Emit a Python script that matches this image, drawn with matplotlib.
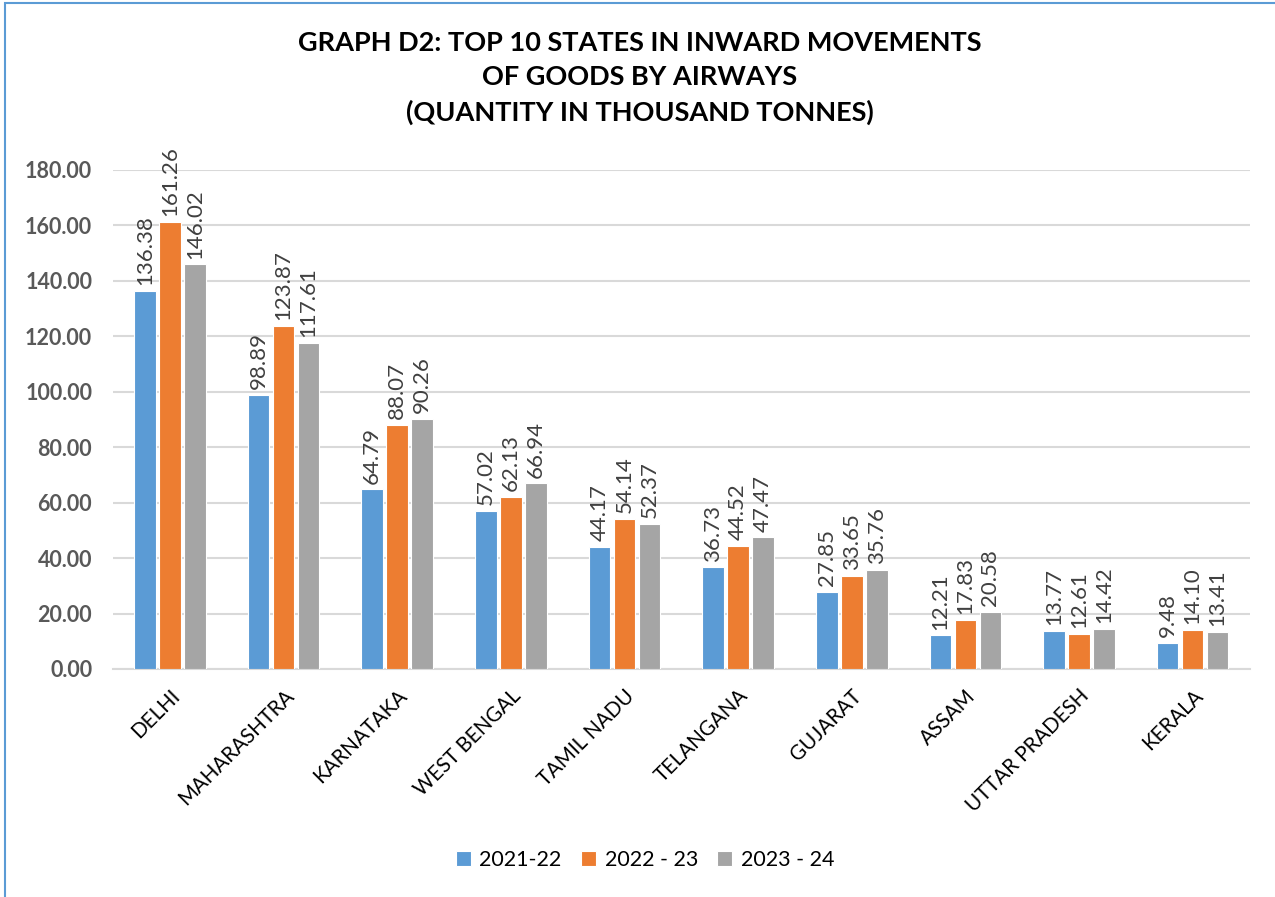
import matplotlib.pyplot as plt
import numpy as np
from matplotlib.patches import Rectangle

plt.rcParams["font.family"] = ["Lato", "DejaVu Sans"]

STATES = ["DELHI", "MAHARASHTRA", "KARNATAKA", "WEST BENGAL", "TAMIL NADU",
          "TELANGANA", "GUJARAT", "ASSAM", "UTTAR PRADESH", "KERALA"]
Y2122 = [136.38, 98.89, 64.79, 57.02, 44.17, 36.73, 27.85, 12.21, 13.77, 9.48]
Y2223 = [161.26, 123.87, 88.07, 62.13, 54.14, 44.52, 33.65, 17.83, 12.61, 14.10]
Y2324 = [146.02, 117.61, 90.26, 66.94, 52.37, 47.47, 35.76, 20.58, 14.42, 13.41]
SERIES = ["2021-22", "2022 - 23", "2023 - 24"]
COLORS = ["#5b9bd5", "#ed7d31", "#a5a5a5"]

fig = plt.figure(figsize=(12.75, 8.97), dpi=100)
ax = fig.add_axes([0.0886, 0.2542, 0.8914, 0.5563])

x = np.arange(len(STATES))
width = 0.19
step = 0.22
for i, (vals, name, col) in enumerate(zip([Y2122, Y2223, Y2324], SERIES, COLORS)):
    pos = x + (i - 1) * step
    ax.bar(pos, vals, width, color=col, edgecolor="white", linewidth=0.8, label=name, zorder=3)
    for p, v in zip(pos, vals):
        ax.annotate(f"{v:.2f}", xy=(p, v), xytext=(0, 4), textcoords="offset points",
                    rotation=90, ha="center", va="bottom", fontsize=16, color="#404040")

ax.set_xlim(-0.5, len(STATES) - 0.5)
ax.set_ylim(0, 180)
ax.set_yticks(np.arange(0, 181, 20))
ax.set_yticklabels([f"{t:.2f}" for t in np.arange(0, 181, 20)],
                   fontsize=15.5, fontweight="bold", color="#595959")
ax.set_xticks(x)
ax.set_xticklabels(STATES, rotation=45, ha="right", rotation_mode="anchor",
                   fontsize=14.8, color="black")
ax.tick_params(axis="y", length=0, pad=15)
ax.tick_params(axis="x", length=0, pad=12)
ax.grid(axis="y", color="#d9d9d9", linewidth=1.5, zorder=0)
for s in ["top", "right", "left"]:
    ax.spines[s].set_visible(False)
ax.spines["bottom"].set_color("#d9d9d9")
ax.spines["bottom"].set_linewidth(1.5)

fig.text(0.502, 0.965, "GRAPH D2: TOP 10 STATES IN INWARD MOVEMENTS\nOF GOODS BY AIRWAYS\n(QUANTITY IN THOUSAND TONNES)",
         ha="center", va="top", fontsize=19.5, fontweight="bold", linespacing=1.5)

fig.legend(loc="center", bbox_to_anchor=(0.506, 0.041), ncol=3, frameon=False,
           fontsize=15.5, handlelength=0.7, handleheight=0.7, columnspacing=0.9, handletextpad=0.4)

fig.patches.append(Rectangle((0.004, -0.01), 1.1, 1.007, transform=fig.transFigure,
                             fill=False, edgecolor="#5b9bd5", linewidth=1.5))

fig.savefig("out.png", dpi=100)
